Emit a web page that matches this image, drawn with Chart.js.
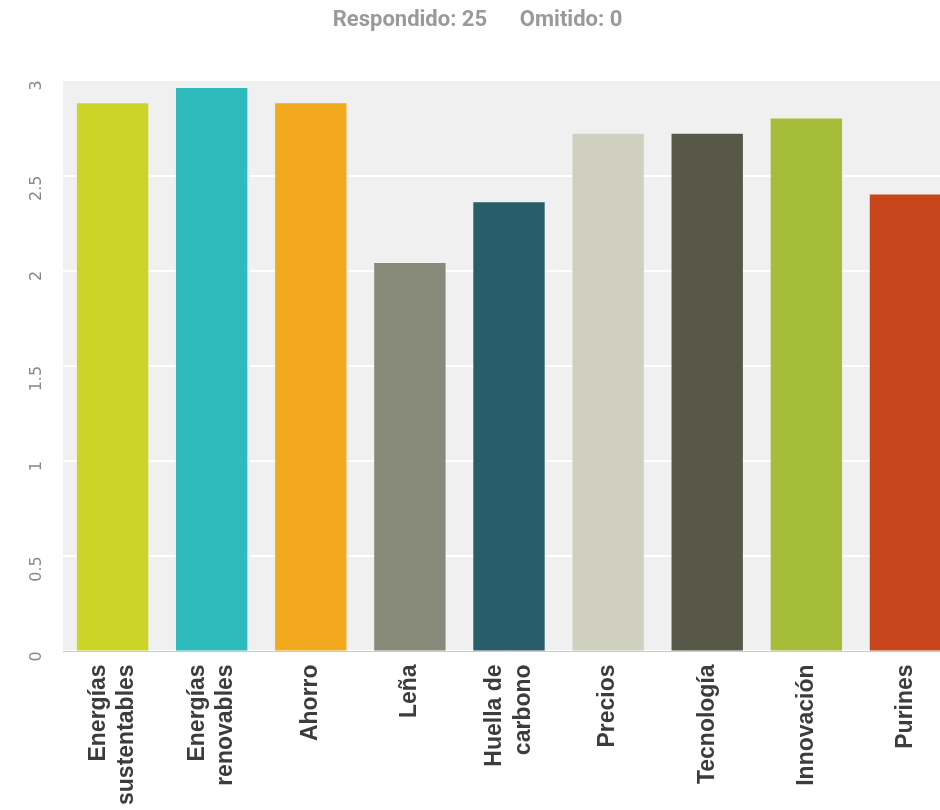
<!DOCTYPE html>
<html>
<head>
<meta charset="utf-8">
<script src="https://cdn.jsdelivr.net/npm/chart.js@4"></script>
<style>
  html, body { margin: 0; padding: 0; background: #fff; overflow: hidden; }
  #wrap { width: 955px; height: 810px; }
</style>
</head>
<body>
<div id="wrap"><canvas id="barCanvas"></canvas></div>
<script>
const categories = [
  ["Energías", "sustentables"],
  ["Energías", "renovables"],
  "Ahorro",
  "Leña",
  ["Huella de", "carbono"],
  "Precios",
  "Tecnología",
  "Innovación",
  "Purines",
];
const promedios = [2.88, 2.96, 2.88, 2.04, 2.36, 2.72, 2.72, 2.80, 2.40];
const barColors = [
  "rgb(205, 212, 40)",
  "rgb(47, 187, 189)",
  "rgb(242, 169, 29)",
  "rgb(135, 138, 120)",
  "rgb(42, 93, 107)",
  "rgb(207, 208, 192)",
  "rgb(88, 88, 73)",
  "rgb(166, 189, 58)",
  "rgb(201, 70, 29)",
];
const yTicks = [0, 0.5, 1, 1.5, 2, 2.5, 3];

// fondo gris del área de trazado
const plotBg = {
  id: "plotBg",
  beforeDraw(chart) {
    const { ctx, chartArea: a } = chart;
    ctx.save();
    ctx.fillStyle = "#f0f0f0";
    ctx.fillRect(a.left, a.top, a.right - a.left, a.bottom - a.top);
    ctx.restore();
  },
};

// centra las etiquetas de varias líneas bajo su barra
const centerLabels = {
  id: "centerLabels",
  beforeDraw(chart) {
    const items = chart.scales.x.getLabelItems();
    items.forEach((it) => {
      if (!it._centered && Array.isArray(it.label)) {
        it.textOffset -= ((it.label.length - 1) * it.font.lineHeight) / 2;
        it._centered = true;
      }
    });
  },
};

const barCanvas = document.getElementById("barCanvas");
const barChart = new Chart(barCanvas, {
  type: "bar",
  data: {
    labels: categories,
    datasets: [
      {
        label: "Promedio",
        data: promedios,
        backgroundColor: barColors,
        borderWidth: 0,
        barPercentage: 0.72,
        categoryPercentage: 1,
      },
    ],
  },
  options: {
    responsive: true,
    maintainAspectRatio: false,
    animation: false,
    layout: { padding: { top: 6, left: 0, right: 0, bottom: 0 } },
    plugins: {
      legend: { display: false },
      tooltip: { enabled: false },
      title: {
        display: true,
        text: "Respondido: 25      Omitido: 0",
        color: "#9a9a9a",
        font: { family: "Roboto", size: 22, weight: "bold" },
        padding: { top: 1, bottom: 47 },
      },
    },
    scales: {
      x: {
        grid: { display: false },
        border: { display: true, color: "#c8c8c8", width: 1 },
        ticks: {
          color: "#3c3c3c",
          font: { family: "Liberation Sans", size: 23, weight: "bold", lineHeight: 1.25 },
          minRotation: 90,
          maxRotation: 90,
          padding: 5,
        },
      },
      y: {
        min: 0,
        max: 3,
        afterBuildTicks(scale) {
          scale.ticks = yTicks.map((v) => ({ value: v }));
        },
        afterFit(scale) {
          scale.width = 63;
        },
        grid: { color: "#ffffff", lineWidth: 2, drawTicks: false },
        border: { display: false },
        ticks: {
          color: "#888",
          font: { family: "DejaVu Sans", size: 16 },
          minRotation: 90,
          padding: 26,
          callback: (v) => String(v),
        },
      },
    },
  },
  plugins: [plotBg, centerLabels],
});
</script>
</body>
</html>
